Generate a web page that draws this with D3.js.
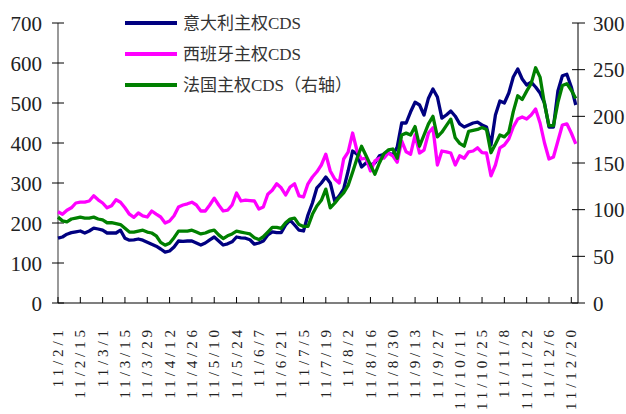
<!DOCTYPE html>
<html><head><meta charset="utf-8">
<script src="https://cdn.jsdelivr.net/npm/d3@7"></script>
<style>
html,body{margin:0;padding:0;background:#fff;}
svg{display:block;}
</style></head>
<body>
<svg id="chart" width="626" height="414"></svg>
<script>
// tick labels (every 10 business days)
const tickLabels = ["11/2/1","11/2/15","11/3/1","11/3/15","11/3/29","11/4/12","11/4/26","11/5/10","11/5/24","11/6/7","11/6/21","11/7/5","11/7/19","11/8/2","11/8/16","11/8/30","11/9/13","11/9/27","11/10/11","11/10/25","11/11/8","11/11/22","11/12/6","11/12/20"];
const leftTicks = [0,100,200,300,400,500,600,700];
const rightTicks = [0,50,100,150,200,250,300];
const seriesNames = ["意大利主权CDS","西班牙主权CDS","法国主权CDS（右轴）"];
// values sampled every 2 business days from 2011/2/1
const italy = [162,165,172,176,178,180,175,180,187,185, 182,175,175,175,182,162,157,158,160,157, 152,147,142,135,127,130,140,155,154,155, 155,150,145,150,158,165,155,145,148,153, 165,163,162,158,147,150,155,170,178,176, 176,195,207,195,182,180,220,250,288,300, 315,300,255,268,285,330,380,372,340,350, 345,350,368,372,376,370,390,450,450,478, 502,495,470,512,535,515,462,470,480,467, 448,440,445,450,452,445,440,395,470,505, 500,525,565,585,560,545,552,540,525,500, 440,440,530,568,572,540, 495];
const spain = [228,222,232,238,250,252,252,255,268,258, 250,238,243,258,252,238,222,214,225,218, 215,230,222,215,200,205,218,240,245,248, 252,245,230,230,245,262,245,230,232,245, 275,255,257,256,255,235,240,272,282,298, 288,270,290,298,268,265,298,315,328,345, 372,330,310,300,360,377,425,380,360,362, 330,355,362,362,375,368,352,405,378,372, 420,375,382,425,438,345,380,378,375,345, 368,362,378,380,388,376,375,318,345,388, 395,410,440,460,465,460,470,485,450,400, 360,365,405,445,448,425, 398];
const france = [92,88,87,90,91,92,91,91,92,90, 89,86,86,85,84,80,76,76,77,78, 76,75,72,65,62,64,70,77,77,77, 78,76,74,75,77,78,73,69,72,74, 77,76,75,74,70,68,71,76,81,81, 80,86,90,91,84,82,82,95,104,110, 122,102,107,113,118,126,140,155,168,158, 148,138,150,160,164,165,155,180,182,180, 189,168,180,192,200,178,183,190,197,177, 171,168,184,185,186,188,186,161,170,180, 178,183,205,222,218,227,235,252,242,213, 190,190,215,233,235,228, 219];
const colors = ["#000080","#ff00ff","#008000"];
const dayStep = 2, tickEvery = 10, lastDay = 233;

const svg = d3.select("#chart");
const x = d3.scaleLinear().domain([0,lastDay]).range([58,578]);
const yL = d3.scaleLinear().domain([0,700]).range([303,23]);
const yR = d3.scaleLinear().domain([0,300]).range([303,23]);

const numFont = "'Liberation Serif', 'Times New Roman', serif";

// left axis
svg.append("line").attr("x1",58).attr("x2",58).attr("y1",yL(700)).attr("y2",303)
  .attr("stroke","#808080").attr("stroke-width",1.6);
leftTicks.forEach(v=>{
  svg.append("line").attr("x1",52).attr("x2",64).attr("y1",yL(v)).attr("y2",yL(v)).attr("stroke","#000").attr("stroke-width",1);
  svg.append("text").attr("x",42).attr("y",yL(v)).attr("dy","0.36em").attr("text-anchor","end")
    .attr("font-family",numFont).attr("font-size",21).attr("fill","#222").text(v);
});
// right axis
svg.append("line").attr("x1",578).attr("x2",578).attr("y1",yR(300)).attr("y2",303)
  .attr("stroke","#000").attr("stroke-width",1);
rightTicks.forEach(v=>{
  svg.append("line").attr("x1",572).attr("x2",585).attr("y1",yR(v)).attr("y2",yR(v)).attr("stroke","#000").attr("stroke-width",1);
  svg.append("text").attr("x",593).attr("y",yR(v)).attr("dy","0.36em").attr("text-anchor","start")
    .attr("font-family",numFont).attr("font-size",21).attr("fill","#222").text(v);
});
// bottom axis
svg.append("line").attr("x1",58).attr("x2",578).attr("y1",303).attr("y2",303).attr("stroke","#000").attr("stroke-width",1.2);
tickLabels.forEach((lab,i)=>{
  const xx = x(i*tickEvery);
  svg.append("line").attr("x1",xx).attr("x2",xx).attr("y1",297).attr("y2",303).attr("stroke","#000").attr("stroke-width",1);
  svg.append("text").attr("transform",`translate(${xx},${326}) rotate(-90)`)
    .attr("dy","0.34em").attr("text-anchor","end")
    .attr("font-family",numFont).attr("font-size",15)
    .attr("letter-spacing","3.9px").attr("fill","#222").text(lab);
});

// series
const mk = (ys)=> d3.line().x((d,i)=>x(i*dayStep)).y(d=>ys(d));
[[italy,yL],[spain,yL],[france,yR]].forEach(([arr,ys],si)=>{
  svg.append("path").datum(arr).attr("d",mk(ys))
    .attr("fill","none").attr("stroke",colors[si]).attr("stroke-width",3.3)
    .attr("stroke-linejoin","round");
});

// legend
seriesNames.forEach((n,i)=>{
  const yy = 23 + i*31;
  svg.append("line").attr("x1",125).attr("x2",177).attr("y1",yy).attr("y2",yy)
    .attr("stroke",colors[i]).attr("stroke-width",4);
  svg.append("text").attr("x",183).attr("y",yy).attr("dy","0.36em")
    .attr("font-family","'Liberation Serif', 'Noto Sans CJK SC', serif").attr("font-size",17)
    .attr("fill","#333").text(n);
});
</script>
</body></html>
